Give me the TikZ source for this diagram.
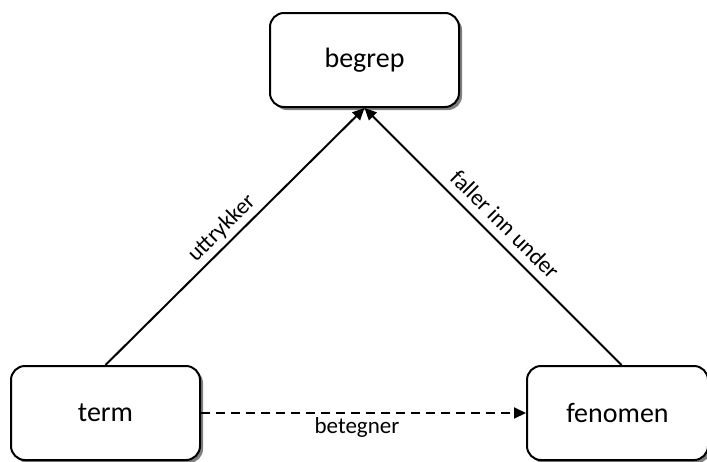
\documentclass[tikz,border=0pt]{standalone}
\usepackage{fontspec}
\setmainfont{Carlito}
\usepackage{tikz}
\usetikzlibrary{arrows.meta, positioning, shadows}
\tikzstyle{concept}=[rectangle, rounded corners=14pt, draw=black, fill=white, line width=2pt, minimum width=189pt, minimum height=94pt, font=\fontsize{28}{32}\selectfont, drop shadow={shadow xshift=3pt, shadow yshift=-3pt, fill=black!50, opacity=1}]
\tikzstyle{relation}=[line width=2pt, -{Triangle[length=12pt, width=11pt]}]
\tikzstyle{rellabel}=[font=\fontsize{23}{26}\selectfont, inner sep=4pt]

\begin{document}
\begin{tikzpicture}[x=1pt, y=-1pt]
          \useasboundingbox (0,0) rectangle (707,461);
          \node[concept] (begrep) at (364.5,60) {begrep};
					\node[concept] (term) [below left=257pt and 68pt of begrep] {term};
					\node[concept, minimum width=181pt] (fenomen) [below right=257pt and 66pt of begrep] {fenomen};

          \draw [relation] (term.north) -- node[rellabel, sloped, above, pos=0.49] {uttrykker} (begrep.south);
          \draw [relation] ([xshift=4pt]fenomen.north) -- node[rellabel, sloped, above, pos=0.5, yshift=4pt] {faller inn under} (begrep.south);
          \draw [relation, dash pattern=on 9pt off 6pt] (term) -- node[rellabel, below, pos=0.48] {betegner} (fenomen);
        \end{tikzpicture}
\end{document}
